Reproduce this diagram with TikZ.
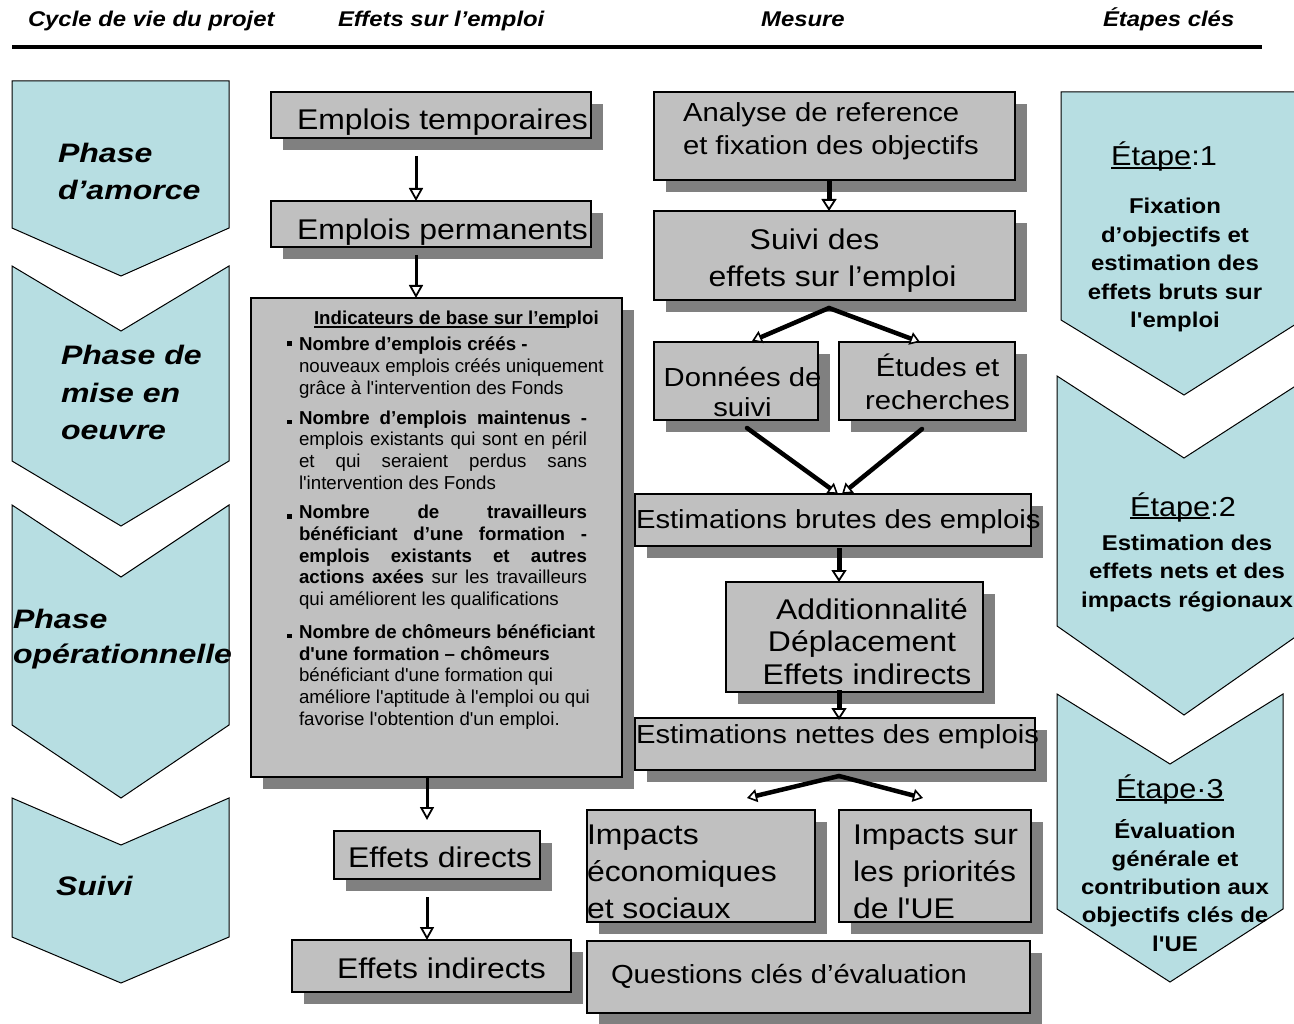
\documentclass[tikz,border=0pt]{standalone}
\usepackage{fontspec}
\setmainfont{Liberation Sans}
\newfontfamily\sN{Liberation Sans}
\newfontfamily\sA[FakeStretch=1.12]{Liberation Sans}
\newfontfamily\sP[FakeStretch=1.2]{Liberation Sans}
\usetikzlibrary{arrows.meta,shadows}
\definecolor{boxgray}{HTML}{C0C0C0}
\definecolor{shadowgray}{HTML}{808080}
\definecolor{chevfill}{RGB}{183,222,226}
\newcommand\vlinesL[2]{\vtop{\baselineskip=#1\lineskiplimit=-\maxdimen\halign{##\hfil\cr#2\crcr}}}
\newcommand\vlinesC[2]{\vtop{\baselineskip=#1\lineskiplimit=-\maxdimen\halign{\hfil##\hfil\cr#2\crcr}}}
\newcommand\myul[2][1.6pt]{\setbox0=\hbox{#2}\rlap{\rule[-2.8pt]{\wd0}{#1}}\box0}
\newcommand\J[1]{\makebox[288pt][s]{#1}}
\newcommand\bul{\llap{\raisebox{4.5pt}{\rule{5pt}{5pt}}\hspace{7pt}}}
\newcommand\bulb{\llap{\rule{5pt}{4.5pt}\hspace{7pt}}}
\newcommand\Gone{\fontsize{28.5}{34}\sA}
\newcommand\Gtwo{\fontsize{26.1}{31}\sA}
\newcommand\Phf{\fontsize{26.7}{32}\sP\bfseries\itshape}
\newcommand\Hdf{\fontsize{21.3}{25}\sA\bfseries\itshape}
\newcommand\Etf{\fontsize{27.4}{33}\sA}
\newcommand\Ebf{\fontsize{21.4}{28.5}\sA\bfseries}
\begin{document}
\begin{tikzpicture}[x=1pt,y=-1pt,
  gbox/.style={draw, line width=1.5pt, fill=boxgray, inner sep=0pt, outer sep=0pt,
    general shadow={fill=shadowgray, shadow xshift=12pt, shadow yshift=-12pt}},
  txt/.style={inner sep=0pt, outer sep=0pt},
  chev/.style={fill=chevfill, draw=black, line width=1pt, line join=miter},
  arrthin/.style={line width=3pt, -{Triangle[open, fill=white, length=13pt, width=14pt, line width=1.8pt]}},
  arrthick/.style={line width=5pt, -{Triangle[open, fill=white, length=12pt, width=15pt, line width=1.8pt]}},
  diag/.style={line width=4.5pt, line cap=round, -{Triangle[open, fill=white, length=10pt, width=13pt, line width=1.6pt]}}
]
\path[use as bounding box, fill=white] (0,0) rectangle (1294,1024);

% header
\node[txt, anchor=base west, font=\Hdf] (h1) at (28,27) {Cycle de vie du projet};
\node[txt, anchor=base west, font=\Hdf] (h2) at (338,27) {Effets sur l’emploi};
\node[txt, anchor=base, font=\Hdf] (h3) at (803,27) {Mesure};
\node[txt, anchor=base west, font=\Hdf] (h4) at (1103,27) {Étapes clés};
\draw[line width=3.5pt] (12,47) -- (1262,47);

% left chevrons
\path[chev] (12,81) -- (229,81) -- (229,228) -- (121,276) -- (12,228) -- cycle;
\path[chev] (12,266) -- (121,331) -- (229,266) -- (229,461) -- (121,526) -- (12,461) -- cycle;
\path[chev] (12,505) -- (121,577) -- (229,505) -- (229,725) -- (121,798) -- (12,725) -- cycle;
\path[chev] (12,798) -- (121,845) -- (229,798) -- (229,937) -- (121,983) -- (12,937) -- cycle;
\node[txt, anchor=base west, font=\Phf] (p1) at (58,163) {\vlinesL{37pt}{Phase\cr d’amorce}};
\node[txt, anchor=base west, font=\Phf] (p2) at (61,365) {\vlinesL{37.5pt}{Phase de\cr mise en\cr oeuvre}};
\node[txt, anchor=base west, font=\Phf] (p3) at (13,628) {\vlinesL{35pt}{Phase\cr opérationnelle}};
\node[txt, anchor=base west, font=\Phf] (p4) at (56,895) {Suivi};

% right chevrons
\path[chev] (1061,92) -- (1307,92) -- (1307,317) -- (1184,395) -- (1061,320) -- cycle;
\path[chev] (1057,376) -- (1184,458) -- (1311,376) -- (1311,626) -- (1184,715) -- (1057,626) -- cycle;
\path[chev] (1057,694) -- (1170,764) -- (1283,694) -- (1283,909) -- (1170,982) -- (1057,909) -- cycle;
\node[txt, anchor=base, font=\Etf] (e1) at (1164,166) {\myul{Étape}:1};
\node[txt, anchor=base, font=\Ebf] (e1t) at (1175,214) {\vlinesC{28.5pt}{Fixation\cr d’objectifs et\cr estimation des\cr effets bruts sur\cr l'emploi}};
\node[txt, anchor=base, font=\Etf] (e2) at (1183,516) {\myul{Étape}:2};
\node[txt, anchor=base, font=\Ebf] (e2t) at (1187,550) {\vlinesC{28.5pt}{Estimation des\cr effets nets et des\cr impacts régionaux}};
\node[txt, anchor=base, font=\Etf] (e3) at (1170,798) {\myul{Étape·3}};
\node[txt, anchor=base, font=\Ebf] (e3t) at (1175,838) {\vlinesC{28.3pt}{Évaluation\cr générale et\cr contribution aux\cr objectifs clés de\cr l'UE}};

% boxes
\node[gbox, minimum width=320pt, minimum height=46pt] (temp) at (431,115) {};
\node[gbox, minimum width=320pt, minimum height=46pt] (perm) at (431,224) {};
\node[gbox, minimum width=371pt, minimum height=479pt] (big) at (436.5,537.5) {};
\node[gbox, minimum width=206pt, minimum height=48pt] (direct) at (437,855) {};
\node[gbox, minimum width=279pt, minimum height=52pt] (indirect) at (431.5,966) {};
\node[gbox, minimum width=361pt, minimum height=88pt] (analyse) at (834.5,136) {};
\node[gbox, minimum width=361pt, minimum height=89pt] (suivi) at (834.5,255.5) {};
\node[gbox, minimum width=164pt, minimum height=78pt] (donnees) at (736,381) {};
\node[gbox, minimum width=176pt, minimum height=78pt] (etudes) at (927,381) {};
\node[gbox, minimum width=396pt, minimum height=52pt] (brutes) at (833,520) {};
\node[gbox, minimum width=257pt, minimum height=110pt] (addit) at (854.5,637) {};
\node[gbox, minimum width=400pt, minimum height=52pt] (nettes) at (835,744) {};
\node[gbox, minimum width=228pt, minimum height=112pt] (impeco) at (701,866) {};
\node[gbox, minimum width=192pt, minimum height=112pt] (impue) at (935,866) {};
\node[gbox, minimum width=443pt, minimum height=72pt] (quest) at (808.5,977) {};

% box texts
\node[txt, anchor=base west, font=\Gone] (temptxt) at (297,130) {Emplois temporaires};
\node[txt, anchor=base west, font=\Gone] (permtxt) at (297,240) {Emplois permanents};
\node[txt, anchor=base west, font=\Gone] (directtxt) at (348,867) {Effets directs};
\node[txt, anchor=base west, font=\Gone] (indirecttxt) at (337,978) {Effets indirects};
\node[txt, anchor=base west, font=\Gtwo] (analysetxt) at (683,122) {\vlinesL{33pt}{Analyse de reference\cr et fixation des objectifs}};
\node[txt, anchor=base, font=\Gone] (suivitxt) at (832.5,250) {\vlinesC{37pt}{Suivi des\hspace{36pt}\cr effets sur l’emploi}};
\node[txt, anchor=base, font=\Gtwo] (donneestxt) at (742.5,387) {\vlinesC{30pt}{Données de\cr suivi}};
\node[txt, anchor=base, font=\Gtwo] (etudestxt) at (937.5,377) {\vlinesC{33pt}{Études et\cr recherches}};
\node[txt, anchor=base west, font=\Gtwo] (brutestxt) at (636,528) {Estimations brutes des emplois};
\node[txt, anchor=base, font=\Gone] (addittxt) at (867,619) {\vlinesC{32.5pt}{\hspace{10pt}Additionnalité\cr Déplacement\hspace{10pt}\cr Effets indirects}};
\node[txt, anchor=base west, font=\Gtwo] (nettestxt) at (636,743) {Estimations nettes des emplois};
\node[txt, anchor=base west, font=\Gone] (impecotxt) at (587,844) {\vlinesL{37pt}{Impacts\cr économiques\cr et sociaux}};
\node[txt, anchor=base west, font=\Gone] (impuetxt) at (853,844) {\vlinesL{37pt}{Impacts sur\cr les priorités\cr de l'UE}};
\node[txt, anchor=base west, font=\Gtwo] (questtxt) at (611,983) {Questions clés d’évaluation};

\node[txt, anchor=base west, font=\fontsize{18.7}{21.7}\sN] (bigtxt) at (299,325) {\vlinesL{21.7pt}{%
\hspace{15pt}\textbf{\myul[1.3pt]{Indicateurs de base sur l’em}ploi}\cr
\noalign{\vskip4.3pt}
\bul\textbf{Nombre d’emplois créés -}\cr
nouveaux emplois créés uniquement\cr
grâce à l'intervention des Fonds\cr
\noalign{\vskip8pt}
\bulb\J{\textbf{Nombre d’emplois maintenus -}}\cr
\J{emplois existants qui sont en péril}\cr
\J{et qui seraient perdus sans}\cr
l'intervention des Fonds\cr
\noalign{\vskip8pt}
\bulb\J{\textbf{Nombre de travailleurs}}\cr
\J{\textbf{bénéficiant d’une formation -}}\cr
\J{\textbf{emplois existants et autres}}\cr
\J{\textbf{actions axées} sur les travailleurs}\cr
qui améliorent les qualifications\cr
\noalign{\vskip11pt}
\bulb\textbf{Nombre de chômeurs bénéficiant}\cr
\textbf{d'une formation – chômeurs}\cr
bénéficiant d'une formation qui\cr
améliore l'aptitude à l'emploi ou qui\cr
favorise l'obtention d'un emploi.}};

% connectors
\draw[arrthin] ([xshift=-15pt,yshift=-18pt]temp.south) -- ([xshift=-15pt]perm.north);
\draw[arrthin] ([xshift=-15pt,yshift=-8pt]perm.south) -- ([xshift=-20.5pt]big.north);
\draw[arrthin] ([xshift=-9.5pt]big.south) -- ([xshift=-10pt,yshift=11pt]direct.north);
\draw[arrthin] ([xshift=-10pt,yshift=-18pt]direct.south) -- ([xshift=-4.5pt]indirect.north);
\draw[arrthick] ([xshift=-5.5pt]analyse.south) -- ([xshift=-5.5pt]suivi.north);
\draw[diag] ([xshift=-5.5pt,yshift=-8pt]suivi.south) -- ([xshift=16pt,yshift=1pt]donnees.north);
\draw[diag] ([xshift=-5.5pt,yshift=-8pt]suivi.south) -- ([xshift=-7pt]etudes.north);
\draw[diag] ([xshift=11pt,yshift=-8pt]donnees.south) -- ([xshift=5pt]brutes.north);
\draw[diag] ([xshift=-5pt,yshift=-9pt]etudes.south) -- ([xshift=9pt]brutes.north);
\draw[arrthick] ([xshift=6pt,yshift=-2pt]brutes.south) -- ([xshift=-15.5pt]addit.north);
\draw[arrthick] ([xshift=-15.5pt,yshift=2pt]addit.south) -- ([xshift=4pt,yshift=-2pt]nettes.north);
\draw[diag] ([xshift=4pt,yshift=-6pt]nettes.south) -- ([xshift=46pt,yshift=12pt]impeco.north);
\draw[diag] ([xshift=4pt,yshift=-6pt]nettes.south) -- ([xshift=-12pt,yshift=12pt]impue.north);
\end{tikzpicture}
\end{document}
